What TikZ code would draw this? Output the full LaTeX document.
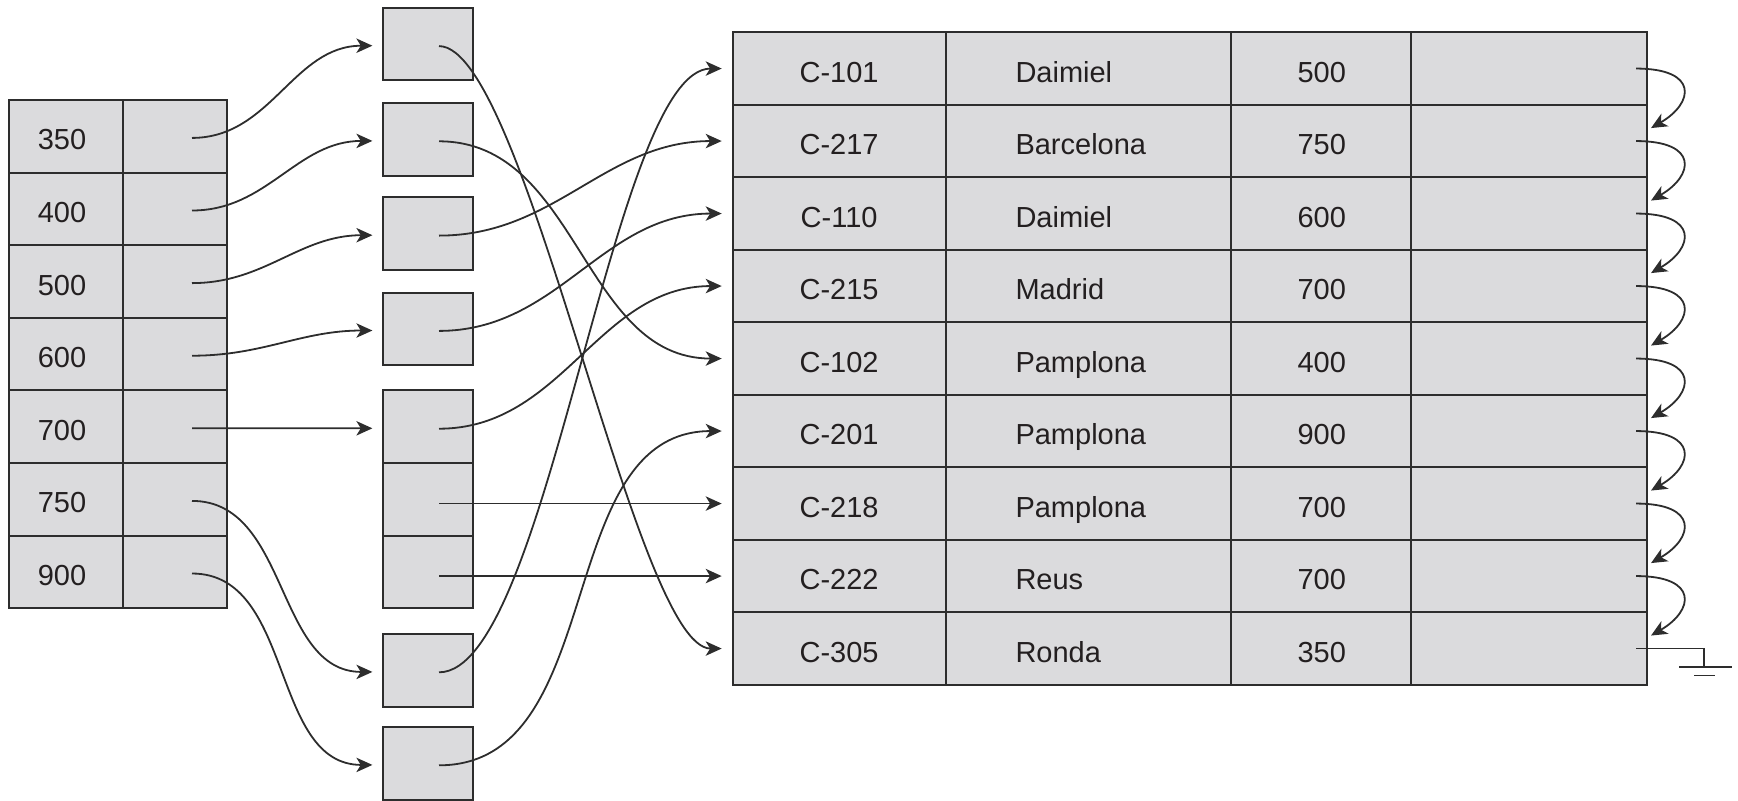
\documentclass[tikz,border=0pt]{standalone}
\usepackage{fontspec}
\setmainfont{Liberation Sans}
\usetikzlibrary{arrows.meta}
\definecolor{cellfill}{RGB}{219,219,221}
\definecolor{rulegray}{RGB}{45,45,45}
\definecolor{ink}{RGB}{35,31,32}
\begin{document}
\begin{tikzpicture}[x=0.5pt,y=-0.5pt,
  cell/.style={draw=rulegray, line width=1pt, fill=cellfill, rectangle, inner sep=0pt, outer sep=0pt},
  lbl/.style={font=\fontsize{14.5}{16}\selectfont, text=ink, inner sep=0pt, text height=10.3pt, text depth=0pt},
  ptr/.style={draw=rulegray, line width=0.9pt, -{Stealth[length=8pt,width=7.2pt,inset=2.2pt]}},
  chain/.style={draw=rulegray, line width=0.9pt},
]
\useasboundingbox (0,0) rectangle (1738,800);

% index: key + pointer cells
\foreach \k [count=\i] in {350,400,500,600,700,750,900}{
  \node[cell, anchor=north west, minimum width=57pt, minimum height=36.3pt] (lk\i) at (9,{100+72.6*(\i-1)}) {};
  \node[cell, anchor=north west, minimum width=52pt, minimum height=36.3pt] (lp\i) at (123,{100+72.6*(\i-1)}) {};
  \node[lbl] (lt\i) at ([xshift=-2pt,yshift=-1.6pt]lk\i.center) {\k};
  \coordinate (ls\i) at ([xshift=-17.5pt,yshift=-0.8pt]lp\i.east);
}

% bucket cells
\foreach \t [count=\i] in {7.8,103,197.3,292.6,390.4,463,535.6,634,727}{
  \node[cell, anchor=north west, minimum width=45pt, minimum height=36.3pt] (m\i) at (383,\t) {};
  \coordinate (ms\i) at ([xshift=-17pt,yshift=-1pt]m\i.east);
  \coordinate (mt\i) at ([xshift=-5.3pt,yshift=-0.8pt]m\i.west);
}

% account file
\foreach \a/\b/\c [count=\j] in {C-101/Daimiel/500,C-217/Barcelona/750,C-110/Daimiel/600,
    C-215/Madrid/700,C-102/Pamplona/400,C-201/Pamplona/900,C-218/Pamplona/700,
    C-222/Reus/700,C-305/Ronda/350}{
  \node[cell, anchor=north west, minimum width=106.4pt, minimum height=36.25pt] (ra\j) at (732.7,{32.3+72.5*(\j-1)}) {};
  \node[cell, anchor=north west, minimum width=142.5pt, minimum height=36.25pt] (rb\j) at (ra\j.north east) {};
  \node[cell, anchor=north west, minimum width=90.25pt, minimum height=36.25pt] (rc\j) at (rb\j.north east) {};
  \node[cell, anchor=north west, minimum width=118pt, minimum height=36.25pt] (rd\j) at (rc\j.north east) {};
  \node[lbl] (ta\j) at ([yshift=-1.6pt]ra\j.center) {\a};
  \node[lbl, anchor=west] (tb\j) at ([xshift=34.8pt,yshift=-1.6pt]rb\j.west) {\b};
  \node[lbl] (tc\j) at ([xshift=0.5pt,yshift=-1.6pt]rc\j.center) {\c};
  \coordinate (rt\j) at ([xshift=-5.5pt]ra\j.west);
  \coordinate (rs\j) at ([xshift=-5.5pt]rd\j.east);
  \coordinate (rn\j) at ([xshift=2pt,yshift=6.5pt]rd\j.east);
}

% index -> buckets
\foreach \i/\m in {1/1,2/2,3/3,4/4,6/8,7/9}{
  \draw[ptr] (ls\i) to[out=0,in=180] (mt\m);
}
\draw[ptr] (ls5) -- (mt5);

% buckets -> records
\foreach \m/\r in {2/5,3/2,4/3,5/4,9/6}{
  \draw[ptr] (ms\m) to[out=0,in=180] (rt\r);
}
\draw[ptr] (ms1) .. controls +(87,0) and +(-87,0) .. (rt9);
\draw[ptr] (ms8) .. controls +(110,0) and +(-110,0) .. (rt1);
\draw[ptr] (rt7 -| ms6) -- (rt7);
\draw[ptr] (rt8 -| ms7) -- (rt8);

% record chain
\foreach \j [evaluate=\j as \n using int(\j+1)] in {1,...,8}{
  \draw[ptr] (rs\j) .. controls +(63,0) and +(43,-25) .. (rn\n);
}

% end of chain
\coordinate (gnd) at (1704,667);
\draw[chain] (rs9) -| (gnd);
\draw[chain] ([xshift=-12.5pt]gnd) -- ([xshift=14pt]gnd);
\draw[chain] ([xshift=-5pt,yshift=-4.2pt]gnd) -- ([xshift=5.5pt,yshift=-4.2pt]gnd);
\end{tikzpicture}
\end{document}
